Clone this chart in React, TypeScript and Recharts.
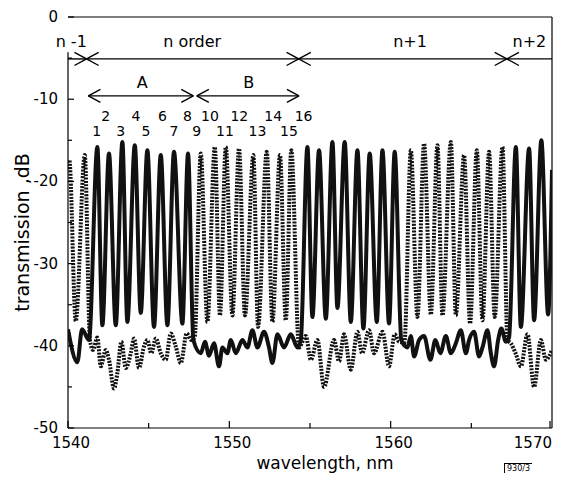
import React from 'react';
import { LineChart, Line, XAxis, YAxis, ReferenceLine, ReferenceDot } from 'recharts';

// solid trace (turning points)
const solidWl = [1540.0, 1540.58, 1540.87, 1541.3, 1541.82, 1542.13, 1542.54, 1542.96, 1543.37, 1543.68, 1544.14, 1544.51, 1544.92, 1545.33, 1545.75, 1546.16, 1546.57, 1547.09, 1547.44, 1547.77, 1548.23, 1548.49, 1548.74, 1549.05, 1549.36, 1549.57, 1549.88, 1550.09, 1550.4, 1550.81, 1551.12, 1551.43, 1551.74, 1552.15, 1552.46, 1552.67, 1552.98, 1553.39, 1553.81, 1554.22, 1554.43, 1554.84, 1555.15, 1555.56, 1555.98, 1556.39, 1556.7, 1557.15, 1557.53, 1557.94, 1558.31, 1558.7, 1559.14, 1559.49, 1559.9, 1560.25, 1560.66, 1561.04, 1561.25, 1561.45, 1561.76, 1562.07, 1562.46, 1562.77, 1563.08, 1563.42, 1563.73, 1564.04, 1564.35, 1564.66, 1564.86, 1565.17, 1565.48, 1565.69, 1566.0, 1566.21, 1566.41, 1566.66, 1566.86, 1567.14, 1567.34, 1567.76, 1568.07, 1568.58, 1568.89, 1569.34, 1569.76, 1570.0];
const solidDb = [-38, -42, -38, -39.3, -15.8, -37.5, -16.6, -37.5, -15.2, -37.1, -15.6, -36.0, -16.2, -37.7, -16.8, -37.5, -16.4, -37.3, -16.6, -39.3, -40.9, -39.5, -41.2, -39.7, -42.5, -40.2, -40.9, -39.3, -40.9, -39.3, -40.2, -38.1, -40.2, -38.3, -40.2, -42.1, -38.6, -40.2, -38.6, -40.2, -39.3, -15.8, -36.5, -16.2, -36.7, -15.2, -35.4, -15.2, -37.1, -16.2, -37.9, -16.6, -37.1, -16.2, -37.3, -16.4, -39.3, -40.2, -38.8, -41.3, -39.3, -38.8, -41.7, -39.3, -40.9, -38.8, -40.9, -39.7, -38.1, -40.9, -39.3, -38.3, -41.3, -40.2, -38.1, -40.9, -42.5, -39.3, -37.9, -39.5, -39, -15.8, -37.7, -16.0, -36.9, -15.0, -36.2, -18.6];

// dotted trace
const dottedWl = [1540.0, 1540.08, 1540.48, 1541.04, 1541.36, 1541.55, 1541.82, 1542.03, 1542.34, 1542.54, 1542.85, 1543.06, 1543.31, 1543.58, 1543.89, 1544.09, 1544.4, 1544.71, 1544.92, 1545.16, 1545.44, 1545.75, 1546.06, 1546.37, 1546.68, 1546.99, 1547.36, 1547.64, 1547.85, 1548.23, 1548.64, 1549.1, 1549.42, 1549.78, 1550.19, 1550.6, 1550.97, 1551.49, 1551.78, 1552.32, 1552.67, 1553.14, 1553.5, 1553.84, 1554.32, 1554.74, 1555.05, 1555.46, 1555.87, 1556.49, 1556.8, 1557.11, 1557.53, 1557.94, 1558.23, 1558.66, 1558.97, 1559.49, 1559.9, 1560.25, 1560.52, 1560.85, 1561.25, 1561.66, 1562.07, 1562.49, 1562.9, 1563.21, 1563.73, 1564.04, 1564.55, 1564.92, 1565.34, 1565.69, 1566.1, 1566.45, 1566.93, 1567.24, 1567.45, 1567.76, 1568.07, 1568.48, 1568.89, 1569.31, 1569.62, 1570.0];
const dottedDb = [-18.5, -17.4, -37.0, -16.8, -39.3, -40.5, -39.0, -42.5, -40.5, -41.7, -45.2, -43.3, -39.5, -42.7, -40.9, -39.1, -42.7, -40.1, -39.3, -40.9, -39.1, -40.9, -41.7, -38.5, -40.1, -42.1, -38.5, -39.3, -39.0, -16.6, -37.1, -15.8, -36.3, -15.8, -36.3, -16.0, -36.3, -16.8, -37.7, -16.4, -37.1, -16.8, -36.9, -16.2, -40.2, -38.8, -41.7, -39.3, -45.0, -39.3, -41.9, -38.6, -42.9, -38.3, -40.9, -38.1, -40.9, -38.3, -42.5, -38.6, -39.5, -39.6, -16.2, -36.5, -15.4, -36.2, -15.6, -36.3, -15.2, -36.3, -16.8, -37.3, -16.2, -36.9, -16.4, -36.5, -15.8, -39.3, -39.7, -41.0, -42.5, -38.6, -45.0, -39.3, -41.7, -40.5];

const xTicks = [1540, 1545, 1550, 1555, 1560, 1565, 1570];
const yTicks = [-50, -45, -40, -35, -30, -25, -20, -15, -10, -5, 0];

// interference orders along the top
const orderStart = [1540, 1541.15, 1554.3, 1567.2];
const orderEnd = [1541.15, 1554.3, 1567.2, 1570];
const orderLabels = ['n -1', 'n order', 'n+1', 'n+2'];
const orderLabelWl = [1540.2, 1547.7, 1561.2, 1568.6];

// channel groups A and B
const groupStart = [1541.26, 1547.98];
const groupEnd = [1547.77, 1554.32];
const groupLabels = ['A', 'B'];
const groupLabelWl = [1544.6, 1551.2];

// channel numbers
const channelLabels = ['1', '2', '3', '4', '5', '6', '7', '8', '9', '10', '11', '12', '13', '14', '15', '16'];
const channelWl = [1541.78, 1542.34, 1543.27, 1544.22, 1544.84, 1545.85, 1546.57, 1547.4, 1547.98, 1548.8, 1549.73, 1550.62, 1551.74, 1552.72, 1553.7, 1554.6];

const solidData = solidWl.map((wl, i) => ({ wl, db: solidDb[i] }));
const dottedData = dottedWl.map((wl, i) => ({ wl, db: dottedDb[i] }));

const ORDER_Y = -5.1;
const ORDER_LABEL_Y = -3.0;
const GROUP_Y = -9.6;
const GROUP_LABEL_Y = -7.9;
const HEAD_W = 0.75;
const HEAD_H = 0.8;

function head(tip: number, y: number, dir: number, key: string) {
  const back = tip - dir * HEAD_W;
  return [
    <ReferenceLine key={key + 'u'} segment={[{ x: back, y: y + HEAD_H }, { x: tip, y }]} stroke="#000" strokeWidth={1.4} />,
    <ReferenceLine key={key + 'd'} segment={[{ x: back, y: y - HEAD_H }, { x: tip, y }]} stroke="#000" strokeWidth={1.4} />,
  ];
}

function span(a: number, b: number, y: number, key: string) {
  const out = [<ReferenceLine key={key} segment={[{ x: a, y }, { x: b, y }]} stroke="#000" strokeWidth={1.4} />];
  if (a > 1540) out.push(...head(a, y, -1, key + 'l'));
  if (b < 1570) out.push(...head(b, y, 1, key + 'r'));
  return out;
}

function textAt(x: number, y: number, value: string, key: string, size = 16) {
  return (
    <ReferenceDot key={key} x={x} y={y} r={1} fill="none" stroke="none"
      label={{ value, position: 'center', fontSize: size, fill: '#000' }} />
  );
}

function WlTick(props: any) {
  const { x, y, payload } = props;
  const v = payload.value;
  const len = v % 10 === 0 ? 7 : 5;
  return (
    <g>
      <line x1={x} x2={x} y1={428} y2={428 - len} stroke="#000" strokeWidth={1.2} />
      {v % 10 === 0 && (
        <text x={v === 1570 ? x + 2 : x + 3} y={428} dy={20} textAnchor={v === 1570 ? 'end' : 'middle'} fontSize={15} fill="#000">
          {v}
        </text>
      )}
    </g>
  );
}

function DbTick(props: any) {
  const { y, payload } = props;
  const v = payload.value;
  return (
    <g>
      <line x1={68} x2={v % 10 === 0 ? 74 : 72} y1={y} y2={y} stroke="#000" strokeWidth={1.2} />
      {v % 10 === 0 && (
        <text x={58} y={y} dy={5} textAnchor="end" fontSize={15} fill="#000">
          {v}
        </text>
      )}
    </g>
  );
}

export default function App() {
  return (
    <div style={{ position: 'absolute', left: 0, top: 0, width: 566, height: 477, background: '#fff', fontFamily: '"DejaVu Sans", sans-serif' }}>
      <LineChart width={566} height={477} margin={{ top: 17, right: 14, bottom: 19, left: 28 }}>
        <XAxis
          dataKey="wl"
          type="number"
          domain={[1540, 1570]}
          ticks={xTicks}
          tickLine={false}
          tick={WlTick}
          stroke="#000"
          height={30}
          allowDataOverflow
          label={{ value: 'wavelength, nm', position: 'center', dx: 15, dy: 20, fontSize: 17, fill: '#000' }}
        />
        <YAxis
          type="number"
          domain={[-50, 0]}
          ticks={yTicks}
          tickLine={false}
          axisLine={false}
          tick={DbTick}
          stroke="#000"
          width={40}
          allowDataOverflow
          label={{ value: 'transmission ,dB', angle: -90, position: 'center', dx: -26, dy: 10, fontSize: 19, fill: '#000' }}
        />
        <ReferenceLine y={0} stroke="#000" strokeWidth={1.2} />
        <ReferenceLine x={1570} stroke="#000" strokeWidth={1.2} />
        <ReferenceLine segment={[{ x: 1540, y: -50 }, { x: 1540, y: -4.3 }]} stroke="#000" strokeWidth={1.2} />

        {orderStart.map((a, i) => span(a, orderEnd[i], ORDER_Y, 'o' + i))}
        {orderLabels.map((t, i) => textAt(orderLabelWl[i], ORDER_LABEL_Y, t, 'ol' + i))}
        {groupStart.map((a, i) => span(a, groupEnd[i], GROUP_Y, 'g' + i))}
        {groupLabels.map((t, i) => textAt(groupLabelWl[i], GROUP_LABEL_Y, t, 'gl' + i))}
        {channelLabels.map((t, i) => textAt(channelWl[i], i % 2 === 0 ? -13.9 : -12.0, t, 'c' + i, 14))}

        <Line
          data={dottedData}
          dataKey="db"
          type="monotone"
          stroke="#111"
          strokeWidth={4}
          strokeDasharray="2 1.3"
          dot={false}
          isAnimationActive={false}
        />
        <Line
          data={solidData}
          dataKey="db"
          type="monotone"
          stroke="#111"
          strokeWidth={4}
          dot={false}
          isAnimationActive={false}
        />
      </LineChart>
      <div style={{ position: 'absolute', left: 504, top: 463, fontSize: 8, lineHeight: '9px', borderTop: '1px solid #000', borderLeft: '1px solid #000', padding: '0 2px', color: '#000' }}>
        930/3
      </div>
    </div>
  );
}
